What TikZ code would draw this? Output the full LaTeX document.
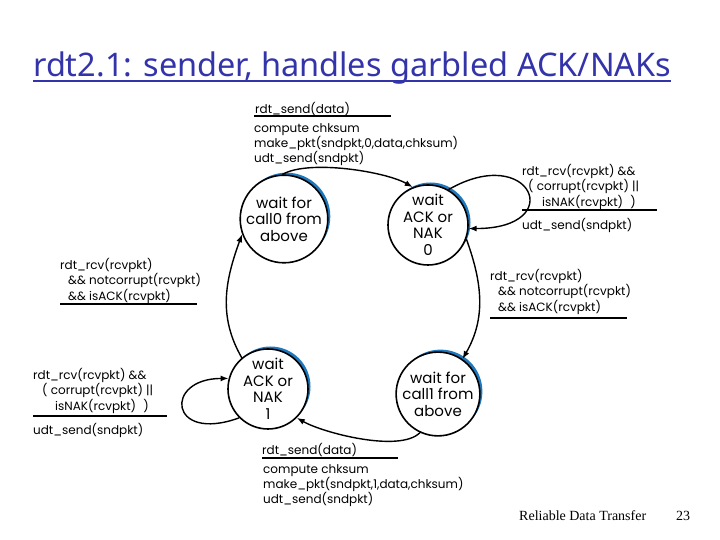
\documentclass[tikz,border=0pt]{standalone}
\usepackage{fontspec}
\setmainfont{Poppins}
\newfontfamily\titlefont{Noto Sans}
\newfontfamily\footfont{Liberation Serif}
\usepackage{tikz}
\usetikzlibrary{
  arrows.meta,
  automata,
  positioning
}
\usepackage{xcolor}
\definecolor{titleBlue}{RGB}{51,51,170}
\definecolor{shadeBlue}{RGB}{30,120,190}
\tikzset{
  every state/.style={
    draw=black,
    fill=white,
    line width=1.6pt,
    inner sep=0pt,
    minimum size=80pt,
    align=center,
    font=\fontsize{15}{16.5}\selectfont,
    preaction={fill=shadeBlue, transform canvas={shift={(2.5pt,2.5pt)}}}
  }
}
\tikzset{
  guard/.style={
    anchor=north west,
    inner sep=0pt,
    align=left,
    font=\fontsize{12}{13}\selectfont
  }
}
\tikzset{
  bar/.style={line width=1.6pt}
}
\tikzset{
  move/.style={->, line width=1.4pt}
}

\begin{document}
\begin{tikzpicture}[x=1pt, y=1pt, >={Latex[length=8pt,width=6pt]}]
    \useasboundingbox (0,0) rectangle (720,540);

    % title and footer
    \node[anchor=base west, inner sep=0pt, text=titleBlue,
      font=\titlefont\fontsize{32.5}{36}\selectfont] (title) at (33,463)
      {rdt2.1: sender, handles garbled ACK/NAKs};
    \draw[titleBlue, line width=1.5pt] ([yshift=-4pt]title.base west)
      -- ([yshift=-4pt]title.base east);
    \node[anchor=base west, inner sep=0pt,
      font=\footfont\fontsize{14}{16}\selectfont] (foot) at (519,19)
      {Reliable Data Transfer};
    \node[anchor=base west, inner sep=0pt,
      font=\footfont\fontsize{14}{16}\selectfont] (page) at (676,19) {23};

    % states
    \node[state] (call0) at (284,321) {wait for\\call0 from\\above};
    \node[state] (ack0) at (428,315) {wait\\ACK or\\NAK\\0};
    \node[state] (ack1) at (268,151) {wait\\ACK or\\NAK\\1};
    \node[state] (call1) at (438,146) {wait for\\call1 from\\above};

    % transitions
    \draw[move] (call0.92) to[out=30, in=150, looseness=0.6] (ack0.112);
    \draw[move] (ack0.60) .. controls +(30:95) and +(0:100) .. (ack0.-5);
    \draw[move] (ack0.-20) to[out=-70, in=60] (call1.55);
    \draw[move] (call1.245) to[out=-135, in=-30, looseness=0.6] (ack1.-45);
    \draw[move] (ack1.225) .. controls +(200:75) and +(180:65) .. (ack1.165);
    \draw[move] (ack1.130) to[out=120, in=-110] (call0.200);

    % labels: send 0
    \node[guard] (snd0) at (255,438) {rdt\_send(data)};
    \draw[bar] (254,424) coordinate (snd0bar) -- ++(137,0);
    \node[guard] (mk0) at (254,417)
      {compute chksum\\make\_pkt(sndpkt,0,data,chksum)\\udt\_send(sndpkt)};

    % labels: garbled or NAK while waiting 0
    \node[guard] (nak0) at (522,376)
      {rdt\_rcv(rcvpkt) \&\&\\\hspace*{6pt}( corrupt(rcvpkt) ||\\\hspace*{20pt}isNAK(rcvpkt) \hspace{4pt})};
    \draw[bar] (522,330) coordinate (nak0bar) -- ++(135,0);
    \node[guard] (re0) at (522,322) {udt\_send(sndpkt)};

    % labels: ACK 0
    \node[guard] (ok0) at (490,271)
      {rdt\_rcv(rcvpkt)\\\hspace*{8pt}\&\& notcorrupt(rcvpkt)\\\hspace*{8pt}\&\& isACK(rcvpkt)};
    \draw[bar] (490,222) coordinate (ok0bar) -- ++(137,0);

    % labels: ACK 1
    \node[guard] (ok1) at (60,282)
      {rdt\_rcv(rcvpkt)\\\hspace*{8pt}\&\& notcorrupt(rcvpkt)\\\hspace*{8pt}\&\& isACK(rcvpkt)};
    \draw[bar] (60,236) coordinate (ok1bar) -- ++(137,0);

    % labels: garbled or NAK while waiting 1
    \node[guard] (nak1) at (33,172)
      {rdt\_rcv(rcvpkt) \&\&\\\hspace*{9pt}( corrupt(rcvpkt) ||\\\hspace*{22pt}isNAK(rcvpkt) \hspace{4pt})};
    \draw[bar] (33,124) coordinate (nak1bar) -- ++(134,0);
    \node[guard] (re1) at (33,117) {udt\_send(sndpkt)};

    % labels: send 1
    \node[guard] (snd1) at (262,97) {rdt\_send(data)};
    \draw[bar] (262,82) coordinate (snd1bar) -- ++(136,0);
    \node[guard] (mk1) at (263,76)
      {compute chksum\\make\_pkt(sndpkt,1,data,chksum)\\udt\_send(sndpkt)};
\end{tikzpicture}
\end{document}
